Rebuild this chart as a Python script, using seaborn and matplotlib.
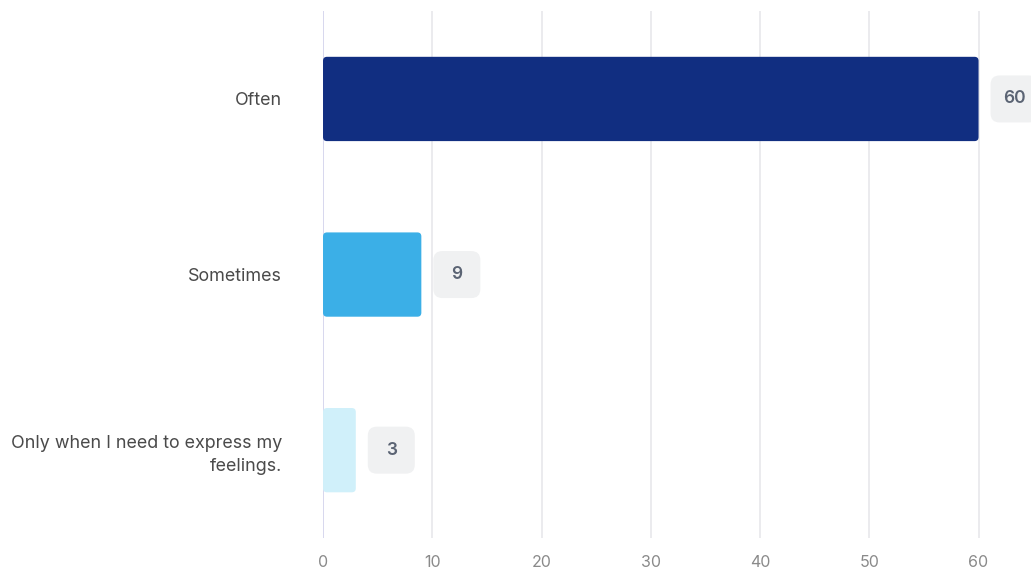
import matplotlib
matplotlib.use("Agg")
import matplotlib.pyplot as plt
import seaborn as sns
import pandas as pd
from matplotlib.patches import FancyBboxPatch
from matplotlib.transforms import IdentityTransform, ScaledTranslation

categories = ["Often", "Sometimes", "Only when I need to express my\nfeelings."]
counts = [60, 9, 3]
bar_colors = ["#112E81", "#3BAFE7", "#D0F0FA"]
ticks = [0, 10, 20, 30, 40, 50, 60]

sns.set_theme(style="white")
plt.rcParams["font.family"] = ["Inter", "DejaVu Sans"]

df = pd.DataFrame({"answer": categories, "count": counts})

fig = plt.figure(figsize=(10.31, 5.72), dpi=100)
ax = fig.add_axes([0.3133, 0.0595, 0.6867, 0.921])

sns.barplot(data=df, x="count", y="answer", hue="answer", palette=bar_colors,
            width=0.48, legend=False, ax=ax, saturation=1)

ax.set_xlim(0, 64.8)
ax.set_ylim(2.5, -0.5)

# swap the plain rectangles for slightly rounded ones
px_per_x = ax.get_window_extent().width / 64.8
px_per_y = ax.get_window_extent().height / 3.0
for p in list(ax.patches):
    x0, y0 = p.get_x(), p.get_y()
    w, h = p.get_width(), p.get_height()
    fc = p.get_facecolor()
    p.remove()
    r = 4.0 / px_per_x
    ax.add_patch(FancyBboxPatch((x0, y0), w, h,
                                boxstyle=f"round,pad=0,rounding_size={r}",
                                mutation_aspect=px_per_x / px_per_y,
                                fc=fc, ec="none", zorder=2))

# value badges
for i, v in enumerate(counts):
    tr = IdentityTransform() + ScaledTranslation(v, i, ax.transData)
    ax.add_patch(FancyBboxPatch((12, -23.5), 47, 47,
                                boxstyle="round,pad=0,rounding_size=9",
                                fc="#F0F1F2", ec="none", transform=tr,
                                clip_on=False, zorder=3))
    ax.annotate(str(v), xy=(v, i), xytext=(35.5, 0), textcoords="offset pixels",
                ha="center", va="center", fontsize=12.5, fontweight="semibold",
                color="#5B6474", zorder=4, annotation_clip=False)

ax.set_xticks(ticks)
ax.grid(axis="x", color="#E6E6EA", linewidth=1.1, zorder=0)
ax.set_axisbelow(True)
ax.axvline(0, color="#D6D6EE", linewidth=1.3, zorder=1)
for s in ax.spines.values():
    s.set_visible(False)

ax.set_xlabel("")
ax.set_ylabel("")
ax.tick_params(axis="x", length=0, pad=12, labelsize=11.5, labelcolor="#8A8A8A")
ax.tick_params(axis="y", length=0, pad=29.5, labelsize=12.9, labelcolor="#4A4A4A")
for lab in ax.get_yticklabels():
    lab.set_horizontalalignment("right")
    lab.set_multialignment("right")
    lab.set_linespacing(1.45)

fig.savefig("out.png", dpi=100)
